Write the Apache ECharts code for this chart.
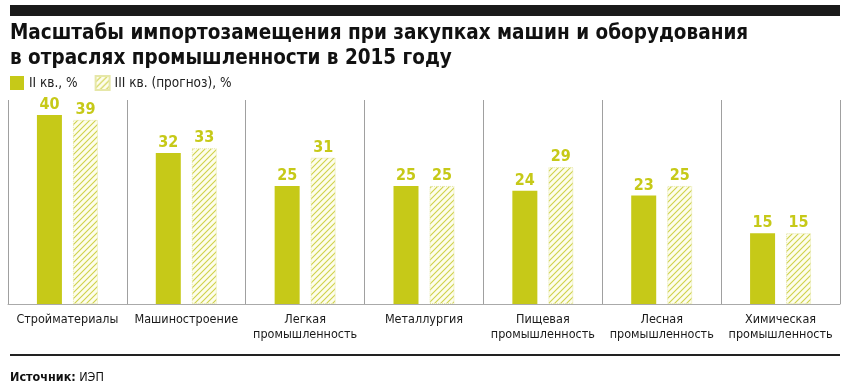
<!DOCTYPE html>
<html><head><meta charset="utf-8">
<script src="https://cdn.jsdelivr.net/npm/echarts@6/dist/echarts.min.js"></script>
<style>html,body{margin:0;padding:0;background:#fff}#c{width:850px;height:387px}</style>
</head><body><div id="c"></div>
<script>
const categories = ['Стройматериалы','Машиностроение','Легкая\nпромышленность','Металлургия','Пищевая\nпромышленность','Лесная\nпромышленность','Химическая\nпромышленность'];
const q2Values = [40,32,25,25,24,23,15];
const q3Values = [39,33,31,25,29,25,15];
const seriesNames = ['II кв., %','III кв. (прогноз), %'];

const YEL = '#c6c918';
const FONT = '"DejaVu Sans Condensed","DejaVu Sans",sans-serif';

function hatch(){
  const c = document.createElement('canvas');
  c.width = 6; c.height = 6;
  const g = c.getContext('2d');
  g.fillStyle = '#fdfdec'; g.fillRect(0,0,6,6);
  g.strokeStyle = '#cfd24a'; g.lineWidth = 1.1;
  g.beginPath();
  g.moveTo(0,6); g.lineTo(6,0);
  g.moveTo(-3,3); g.lineTo(3,-3);
  g.moveTo(3,9); g.lineTo(9,3);
  g.stroke();
  return c;
}

const chart = echarts.init(document.getElementById('c'), null, {renderer:'canvas'});
chart.setOption({
  animation:false,
  textStyle:{fontFamily:FONT},
  grid:{left:8,right:10,top:100,bottom:83,containLabel:false},
  legend:{left:10,top:75,padding:0,itemWidth:14,itemHeight:14,itemGap:17,icon:'rect',
    textStyle:{fontSize:13.5,color:'#222',fontFamily:FONT},
    data:seriesNames},
  xAxis:{type:'category',data:categories,
    axisLine:{lineStyle:{color:'#aaa',width:1}},
    axisTick:{show:false},
    splitLine:{show:true,lineStyle:{color:'#a0a0a0',width:1}},
    axisLabel:{color:'#1a1a1a',fontSize:12.5,margin:8,lineHeight:15,interval:0,fontFamily:FONT}},
  yAxis:{type:'value',min:0,max:43.2,show:false,splitLine:{show:false}},
  series:[
    {name:seriesNames[0],type:'bar',data:q2Values,barWidth:25,barGap:'44%',
     itemStyle:{color:YEL},
     label:{show:true,position:'top',distance:2,color:YEL,fontWeight:'bold',fontSize:16,fontFamily:FONT}},
    {name:seriesNames[1],type:'bar',data:q3Values,barWidth:25,
     itemStyle:{color:{image:hatch(),repeat:'repeat'},borderColor:'#e6e7a8',borderWidth:1,borderType:'dotted'},
     label:{show:true,position:'top',distance:2,color:YEL,fontWeight:'bold',fontSize:16,fontFamily:FONT}}
  ],
  graphic:[
    {type:'rect',shape:{x:10,y:5,width:830,height:11},style:{fill:'#1a1a1a'}},
    {type:'text',left:10,top:21,style:{text:'Масштабы импортозамещения при закупках машин и оборудования\nв отраслях промышленности в 2015 году',
      font:'bold 20.5px '+FONT,fill:'#111',lineHeight:25}},
    {type:'line',shape:{x1:10,y1:355,x2:840,y2:355},style:{stroke:'#222',lineWidth:2}},
    {type:'text',left:10,top:371,style:{rich:{b:{font:'bold 12.5px '+FONT,fill:'#111'},n:{font:'12.5px '+FONT,fill:'#111'}},
      text:'{b|Источник:} {n|ИЭП}'}}
  ]
});
</script></body></html>
